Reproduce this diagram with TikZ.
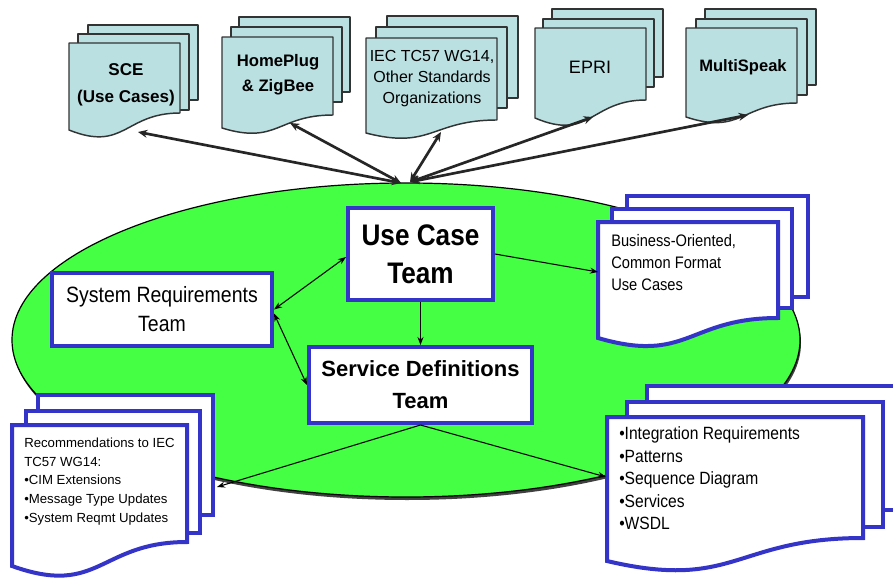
\documentclass[tikz,border=0pt]{standalone}
\usepackage{fontspec}
\setmainfont{Liberation Sans}
\newfontfamily\nf{Liberation Sans}[FakeStretch=0.88]
\usetikzlibrary{arrows.meta}
\definecolor{docblue}{RGB}{186,224,226}
\definecolor{teamblue}{RGB}{52,52,200}
\definecolor{ovalgreen}{RGB}{68,255,68}
\newcommand{\docshape}[6]{%
  \pgfmathsetmacro\dmidx{(#2+#3)/2}%
  \pgfmathsetmacro\dctly{#6+1.31*(#6-#5)}%
  \draw[#1] (#2,#4) -- (#3,#4) -- (#3,#5) .. controls (\dmidx,#5) and (\dmidx,\dctly) .. (#2,#6) -- cycle;%
}
\begin{document}
\begin{tikzpicture}[x=0.75pt,y=-0.75pt,
  topdoc/.style={fill=docblue, draw=black!80, line width=1.1pt, line join=round},
  bluedoc/.style={fill=white, draw=teamblue, line width=3pt, line join=miter},
  teambox/.style={draw=teamblue, fill=white, line width=3pt, align=center, inner sep=0pt},
  toparrow/.style={draw=black!85, line width=2pt, {Stealth[length=7pt,width=6pt]}-{Stealth[length=7pt,width=6pt]}},
  thinarrow/.style={draw=black, line width=0.8pt, -{Stealth[length=6pt,width=4.5pt]}},
  biarrow/.style={draw=black, line width=0.8pt, {Stealth[length=6pt,width=4.5pt]}-{Stealth[length=6pt,width=4.5pt]}},
  doctext/.style={align=left, anchor=north west, inner sep=0pt},
  toptext/.style={align=center, inner sep=0pt}]
\useasboundingbox (0,0) rectangle (893,578);
\clip (0,0) rectangle (893,578);
\fill[white] (0,0) rectangle (893,578);

% oval
\fill[black!75] (407,343) ellipse [x radius=394, y radius=157];
\draw[fill=ovalgreen, draw=black, line width=0.9pt] (406,340) ellipse [x radius=394, y radius=157];

% top documents
\draw[topdoc] (88,25) rectangle (198,100);
\draw[topdoc] (78,34) rectangle (189,110);
\docshape{topdoc}{69}{180}{43}{113}{130}
\draw[topdoc] (239,17) rectangle (350,92);
\draw[topdoc] (231,27) rectangle (342,102);
\docshape{topdoc}{222}{333}{37}{115}{128}
\draw[topdoc] (387,16) rectangle (518,98);
\draw[topdoc] (376,27) rectangle (507,108);
\docshape{topdoc}{366}{497}{38}{120}{133}
\draw[topdoc] (552,9) rectangle (663,77);
\draw[topdoc] (543,19) rectangle (654,87);
\docshape{topdoc}{535}{646}{28}{100}{118}
\draw[topdoc] (705,9) rectangle (816,85);
\draw[topdoc] (696,19) rectangle (807,95);
\docshape{topdoc}{686}{797}{28}{103}{117}

\node[toptext, font=\bfseries\fontsize{12.8}{20.25}\selectfont] (sce) at (126,85) {SCE\\(Use Cases)};
\node[toptext, font=\bfseries\fontsize{12.5}{18.75}\selectfont] (homeplug) at (278,75) {HomePlug\\\& ZigBee};
\node[toptext, font=\fontsize{12}{15.75}\selectfont] (iec) at (432,79) {IEC TC57 WG14,\\Other Standards\\Organizations};
\node[toptext, font=\fontsize{13.5}{16}\selectfont] (epri) at (590,67) {EPRI};
\node[toptext, font=\bfseries\fontsize{12.4}{16}\selectfont] (multi) at (743,67) {MultiSpeak};

% top arrows
\coordinate (hubL) at (401,183);
\coordinate (hubR) at (410,182);
\coordinate (sceP) at (138,132);
\coordinate (homeP) at (290,123);
\coordinate (iecP) at (441,132);
\coordinate (epriP) at (593,117);
\coordinate (multiP) at (748,115);
\draw[toparrow] (hubL) -- (sceP);
\draw[toparrow] (hubL) -- (homeP);
\draw[toparrow] (hubR) -- (iecP);
\draw[toparrow] (hubR) -- (epriP);
\draw[toparrow] (hubR) -- (multiP);

% blue documents
\draw[bluedoc] (627,196) rectangle (808,297);
\draw[bluedoc] (612,209) rectangle (792,308);
\docshape{bluedoc}{598}{778}{222}{318}{338}
\node[doctext, font=\nf\fontsize{12.5}{16.5}\selectfont] (busdoc) at (611,234) {Business-Oriented,\\Common Format\\Use Cases};

\draw[bluedoc] (38,395) rectangle (213,515);
\draw[bluedoc] (26,411) rectangle (200,533);
\docshape{bluedoc}{12}{187}{425}{542}{566}
\node[doctext, font=\fontsize{9.9}{14}\selectfont] (recdoc) at (24,437.5) {Recommendations to IEC\\TC57 WG14:\\•CIM Extensions\\•Message Type Updates\\•System Reqmt Updates};

\draw[bluedoc] (647,386) rectangle (905,510);
\draw[bluedoc] (627,402) rectangle (883,527);
\docshape{bluedoc}{607}{863}{417}{538}{561}
\node[doctext, font=\nf\fontsize{13.3}{16.9}\selectfont] (intdoc) at (619,426.5) {•Integration Requirements\\•Patterns\\•Sequence Diagram\\•Services\\•WSDL};

% team boxes
\node[teambox, minimum width=108.75pt, minimum height=69pt, font=\nf\bfseries\fontsize{22.3}{28.5}\selectfont] (uc) at (420.5,254) {Use Case\\Team};
\node[teambox, minimum width=165pt, minimum height=54.75pt, font=\nf\fontsize{16.6}{21.75}\selectfont] (sr) at (162,309.5) {System Requirements\\Team};
\node[teambox, minimum width=167.25pt, minimum height=57pt, font=\bfseries\fontsize{16.5}{24}\selectfont] (sd) at (420.5,385) {Service Definitions\\Team};

% inner connectors
\coordinate (busP) at (598,272);
\coordinate (recP) at (217,487);
\coordinate (intP) at (606,477);
\draw[biarrow] (sr.east) -- ([yshift=-2.25pt]uc.west);
\draw[biarrow] ([yshift=-3pt]sr.east) -- (sd.west);
\draw[thinarrow] (uc.south) -- (sd.north);
\draw[thinarrow] (uc.east) -- (busP);
\draw[thinarrow] (sd.south) -- (recP);
\draw[thinarrow] (sd.south) -- (intP);
\end{tikzpicture}
\end{document}
